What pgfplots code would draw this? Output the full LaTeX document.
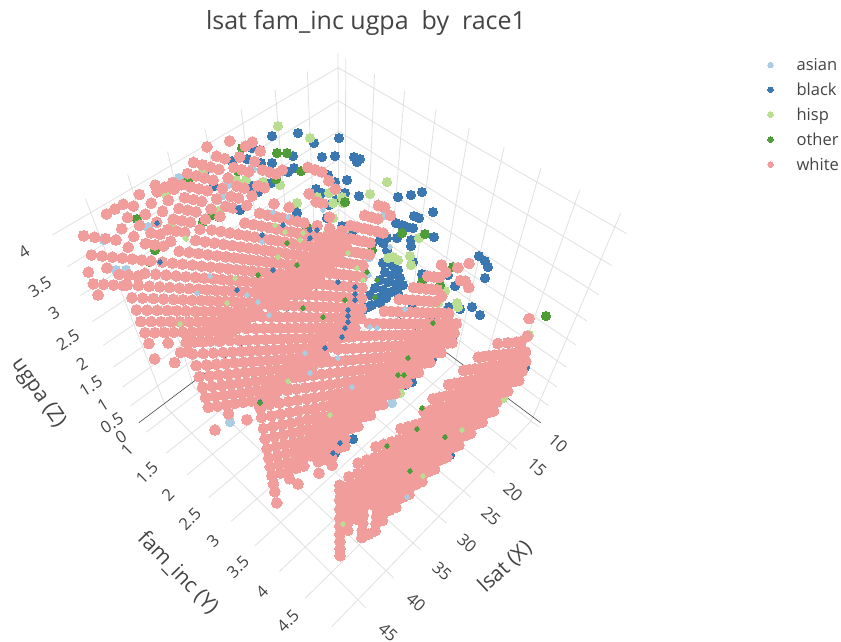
\documentclass[border=0pt]{standalone}
\usepackage{pgfplots}
\pgfplotsset{compat=1.18}
\usepackage{fontspec}
\setmainfont{Open Sans}
\definecolor{cw}{HTML}{F09D9B}
\definecolor{cb}{HTML}{3B78B1}
\definecolor{ch}{HTML}{B9DE91}
\definecolor{co}{HTML}{4F9D38}
\definecolor{ca}{HTML}{ABCDE3}
\definecolor{txt}{HTML}{444444}
\definecolor{gl}{HTML}{E0E0E0}
\pgfplotsset{
 table/fam/.style={/pgfplots/table/header=false,
  /pgfplots/table/x expr={sx((\thisrowno{0}-10)/35,(#1-1)/4,\thisrowno{1}/4)},
  /pgfplots/table/y expr={sy((\thisrowno{0}-10)/35,(#1-1)/4,\thisrowno{1}/4)}},
 table/d3/.style={/pgfplots/table/header=false,
  /pgfplots/table/x expr={sx((\thisrowno{0}-10)/35,(\thisrowno{1}-1)/4,\thisrowno{2}/4)},
  /pgfplots/table/y expr={sy((\thisrowno{0}-10)/35,(\thisrowno{1}-1)/4,\thisrowno{2}/4)}},
 dot/.style={only marks,mark=*,mark size=4.5pt,mark options={draw=#1,fill=#1,line width=0pt},forget plot},
 pdot/.style={only marks,mark=*,mark size=5.4pt,mark options={draw=cw,fill=cw,line width=0pt},forget plot},
 sdot/.style={only marks,mark=*,mark size=2.4pt,mark options={draw=#1,fill=#1,line width=0pt},forget plot},
 gridl/.style={gl,line width=0.8pt,forget plot,unbounded coords=jump,no markers}
}
\begin{document}
\begin{tikzpicture}
\useasboundingbox (0,0) rectangle (841pt,641pt);
\begin{axis}[at={(0,0)},anchor=south west,scale only axis,width=841pt,height=641pt,
 xmin=0,xmax=841,ymin=0,ymax=641,y dir=reverse,hide axis,clip=false,
 declare function={
  sx(\u,\v,\w)=(344.6-195.7*\u+116.4*\v-88.4*\w)/(1-0.124*\u-0.135*\v-0.259*\w);
  sy(\u,\v,\w)=(276.6+81.7*\u+84.1*\v-223.2*\w)/(1-0.124*\u-0.135*\v-0.259*\w);},
 legend style={at={(axis cs:761,56)},anchor=north west,draw=none,fill=none,font=\fontsize{16.5}{18}\selectfont\color{txt},row sep=6.9pt,inner sep=0pt},
 legend cell align=left,
 legend image code/.code={\draw[#1] plot[only marks,mark=*,mark size=2.7pt,mark options={draw=none,line width=0pt}] coordinates {(0.32cm,0cm)};\path (0cm,0cm) (1.16cm,0cm);},
]
\addlegendimage{ca,fill=ca}\addlegendentry{asian}
\addlegendimage{cb,fill=cb}\addlegendentry{black}
\addlegendimage{ch,fill=ch}\addlegendentry{hisp}
\addlegendimage{co,fill=co}\addlegendentry{other}
\addlegendimage{cw,fill=cw}\addlegendentry{white}
% floor lines of constant lsat
\addplot[gridl] table[d3]{
10 0.86 -0.12
10 5.14 -0.12
nan nan nan
15 0.86 -0.12
15 5.14 -0.12
nan nan nan
20 0.86 -0.12
20 5.14 -0.12
nan nan nan
25 0.86 -0.12
25 5.14 -0.12
nan nan nan
30 0.86 -0.12
30 5.14 -0.12
nan nan nan
35 0.86 -0.12
35 5.14 -0.12
nan nan nan
40 0.86 -0.12
40 5.14 -0.12
nan nan nan
45 0.86 -0.12
45 5.14 -0.12
};
% floor lines of constant fam_inc
\addplot[gridl] table[d3]{
10 1 -0.12
49.4 1 -0.12
nan nan nan
10 1.5 -0.12
49.4 1.5 -0.12
nan nan nan
10 2 -0.12
49.4 2 -0.12
nan nan nan
10 2.5 -0.12
49.4 2.5 -0.12
nan nan nan
10 3 -0.12
49.4 3 -0.12
nan nan nan
10 3.5 -0.12
49.4 3.5 -0.12
nan nan nan
10 4 -0.12
49.4 4 -0.12
nan nan nan
10 4.5 -0.12
49.4 4.5 -0.12
nan nan nan
10 5 -0.12
49.4 5 -0.12
};
% wall fam=min: ugpa lines, lsat verticals
\addplot[gridl] table[d3]{
10 0.86 0.5
49.4 0.86 0.5
nan nan nan
10 0.86 1
49.4 0.86 1
nan nan nan
10 0.86 1.5
49.4 0.86 1.5
nan nan nan
10 0.86 2
49.4 0.86 2
nan nan nan
10 0.86 2.5
49.4 0.86 2.5
nan nan nan
10 0.86 3
49.4 0.86 3
nan nan nan
10 0.86 3.5
49.4 0.86 3.5
nan nan nan
10 0.86 4
49.4 0.86 4
nan nan nan
10 0.86 -0.12
10 0.86 4.2
nan nan nan
15 0.86 -0.12
15 0.86 4.2
nan nan nan
20 0.86 -0.12
20 0.86 4.2
nan nan nan
25 0.86 -0.12
25 0.86 4.2
nan nan nan
30 0.86 -0.12
30 0.86 4.2
nan nan nan
35 0.86 -0.12
35 0.86 4.2
nan nan nan
40 0.86 -0.12
40 0.86 4.2
nan nan nan
45 0.86 -0.12
45 0.86 4.2
};
% wall lsat=min: ugpa lines, fam verticals
\addplot[gridl] table[d3]{
10 0.86 0.5
10 5.14 0.5
nan nan nan
10 0.86 1
10 5.14 1
nan nan nan
10 0.86 1.5
10 5.14 1.5
nan nan nan
10 0.86 2
10 5.14 2
nan nan nan
10 0.86 2.5
10 5.14 2.5
nan nan nan
10 0.86 3
10 5.14 3
nan nan nan
10 0.86 3.5
10 5.14 3.5
nan nan nan
10 0.86 4
10 5.14 4
nan nan nan
10 1 -0.12
10 1 4.2
nan nan nan
10 1.5 -0.12
10 1.5 4.2
nan nan nan
10 2 -0.12
10 2 4.2
nan nan nan
10 2.5 -0.12
10 2.5 4.2
nan nan nan
10 3 -0.12
10 3 4.2
nan nan nan
10 3.5 -0.12
10 3.5 4.2
nan nan nan
10 4 -0.12
10 4 4.2
nan nan nan
10 4.5 -0.12
10 4.5 4.2
nan nan nan
10 5 -0.12
10 5 4.2
};
% zero lines
\addplot[gridl,color=txt,line width=0.6pt] table[d3]{
10 0.86 0
49.4 0.86 0
nan nan nan
10 0.86 0
10 5.14 0
};
% points seen beyond or around the white cloud, at the picture position read
\addplot[dot=ca] table[header=false]{
179 178
252 169
228 184
223 195
216 199
148 227
104 240
116 270
126 270
238 185
217 200
386 214
385 215
510 370
493 373
477 403
392 403
230 422
339 423
353 387
436 277
369 257
};
\addplot[dot=cb] table[header=false]{
298 133
272 136
339 138
314 143
322 157
335 156
252 148
260 150
232 161
247 159
261 163
272 163
293 156
207 169
288 172
294 168
328 175
335 182
347 180
214 186
222 188
250 185
251 190
271 183
258 192
316 189
322 193
329 205
336 200
345 193
342 226
327 218
297 213
308 237
156 222
240 210
225 207
354 157
360 159
357 162
359 196
398 197
411 195
422 192
414 216
419 218
433 212
396 223
402 225
407 227
413 228
434 237
352 232
411 240
411 246
397 238
387 238
372 244
383 243
413 262
479 256
485 261
488 267
485 278
448 275
422 274
455 286
472 307
480 315
460 309
449 307
457 324
453 336
448 343
525 367
507 365
432 359
410 377
385 262
392 265
398 270
385 272
392 275
400 278
380 280
388 282
396 284
403 285
375 288
383 290
391 292
398 293
370 295
378 298
386 298
372 305
380 303
363 310
368 307
380 240
387 250
383 263
328 453
335 453
341 443
353 439
450 455
442 456
475 415
492 390
405 385
420 363
430 360
433 340
412 303
432 322
393 377
412 382
};
\addplot[dot=ch] table[header=false]{
278 126
310 138
239 156
203 171
213 180
246 180
236 180
263 182
264 187
280 185
166 194
196 212
218 211
297 203
329 193
317 197
344 231
333 218
328 232
172 227
387 182
370 194
342 197
343 203
333 203
379 219
419 238
410 256
411 265
393 257
398 260
388 258
422 288
445 291
457 303
458 307
433 302
438 303
447 329
432 352
518 353
529 335
503 398
493 412
400 393
392 393
331 415
};
\addplot[dot=co] table[header=false]{
242 148
188 180
277 153
287 153
238 171
262 169
301 171
276 179
137 219
155 250
150 262
190 222
212 215
203 222
219 217
307 228
425 234
402 233
453 267
422 282
345 202
372 250
440 285
546 316
505 355
511 354
492 394
492 402
};
% white, fam_inc = 1
\addplot[pdot] table[fam=1]{
48 3.0
48 3.2
48 3.4
47 3.1
47 3.6
47 3.9
46 3.0
46 3.3
46 3.5
46 3.8
45 2.9
45 3.1
45 3.4
45 3.7
44 3.0
44 3.3
44 3.6
44 4.0
43 2.9
43 3.2
43 3.4
43 3.7
43 4.0
42 3.1
42 3.5
42 3.8
42 4.0
41 3.0
41 3.3
41 3.6
41 3.9
40 3.2
40 3.4
40 3.7
40 4.0
39 3.1
39 3.3
39 3.5
39 3.8
38 3.1
38 3.3
38 3.6
38 3.9
38 4.0
37 3.2
37 3.4
37 3.7
37 3.9
36 3.1
36 3.3
36 3.5
36 3.8
36 3.9
35 3.2
35 3.4
35 3.6
35 3.8
34 3.0
34 3.3
34 3.5
34 3.7
34 3.9
33 3.1
33 3.4
33 3.6
33 3.8
33 4.0
32 3.2
32 3.5
32 3.7
32 3.9
31 3.0
31 3.3
31 3.6
31 3.8
31 4.1
30 3.1
30 3.4
30 3.7
30 3.9
29 3.0
29 3.2
29 3.5
29 3.8
28 3.1
28 3.3
28 3.6
28 4.0
27 2.9
27 3.2
27 3.5
27 3.7
26 3.0
26 3.4
26 3.8
25 3.1
25 3.5
25 3.8
24 3.0
24 3.3
24 3.6
23 3.2
22 3.1
21 3.1
};
% white, fam_inc = 2
\addplot[pdot] table[fam=2]{
48 2.7
48 3.0
48 3.2
48 3.4
48 3.6
48 3.8
48 4.0
47 3.1
47 3.3
47 3.5
47 3.7
47 3.9
46 2.4
46 2.8
46 3.0
46 3.2
46 3.4
46 3.6
46 3.8
46 4.0
45 2.5
45 2.9
45 3.1
45 3.3
45 3.5
45 3.7
45 3.9
44 2.4
44 2.6
44 2.8
44 3.0
44 3.2
44 3.4
44 3.6
44 3.8
44 4.0
43 2.5
43 2.7
43 2.9
43 3.1
43 3.3
43 3.5
43 3.7
43 3.9
42 2.4
42 2.6
42 2.8
42 3.0
42 3.2
42 3.4
42 3.6
42 3.8
42 4.0
41 2.5
41 2.7
41 2.9
41 3.1
41 3.3
41 3.5
41 3.7
41 3.9
40 2.2
40 2.4
40 2.6
40 2.8
40 3.0
40 3.2
40 3.4
40 3.6
40 3.8
40 4.0
39 2.3
39 2.5
39 2.7
39 2.9
39 3.1
39 3.3
39 3.5
39 3.7
39 3.9
38 2.2
38 2.4
38 2.6
38 2.8
38 3.0
38 3.2
38 3.4
38 3.6
38 3.8
38 4.0
37 2.3
37 2.5
37 2.7
37 2.9
37 3.1
37 3.3
37 3.5
37 3.7
37 3.9
36 2.2
36 2.4
36 2.6
36 2.8
36 3.0
36 3.2
36 3.4
36 3.6
36 3.8
35 2.3
35 2.5
35 2.7
35 2.9
35 3.1
35 3.3
35 3.5
35 3.7
34 2.2
34 2.4
34 2.6
34 2.8
34 3.0
34 3.2
34 3.4
34 3.6
34 3.8
33 2.3
33 2.5
33 2.7
33 2.9
33 3.1
33 3.3
33 3.5
33 3.7
32 2.0
32 2.2
32 2.4
32 2.6
32 2.8
32 3.0
32 3.2
32 3.4
32 3.6
32 3.8
31 2.1
31 2.3
31 2.5
31 2.7
31 2.9
31 3.1
31 3.3
31 3.5
31 3.7
30 2.0
30 2.2
30 2.4
30 2.6
30 2.8
30 3.0
30 3.2
30 3.4
30 3.6
30 3.8
29 2.1
29 2.3
29 2.5
29 2.7
29 2.9
29 3.1
29 3.3
29 3.5
28 2.0
28 2.2
28 2.4
28 2.6
28 2.8
28 3.0
28 3.2
28 3.4
28 3.6
27 2.1
27 2.3
27 2.5
27 2.7
27 2.9
27 3.1
27 3.3
26 2.0
26 2.2
26 2.4
26 2.6
26 2.8
26 3.0
26 3.2
25 2.1
25 2.3
25 2.5
25 2.7
25 2.9
25 3.6
25 4.0
24 2.0
24 2.2
24 2.4
24 2.6
24 2.8
24 3.0
24 3.4
24 3.9
23 2.1
23 2.3
23 2.5
23 2.7
23 3.3
23 3.8
22 2.0
22 2.2
22 2.4
22 2.6
22 2.8
22 3.0
22 3.6
21 2.1
21 2.3
21 2.5
21 3.4
20 2.0
20 2.2
20 2.4
20 2.6
19 2.2
};
% white, fam_inc = 3
\addplot[pdot] table[fam=3]{
48 2.3
48 2.8
48 3.0
48 3.2
48 3.4
48 3.6
48 3.8
48 4.0
47 2.7
47 2.9
47 3.1
47 3.3
47 3.5
47 3.7
47 3.9
46 2.4
46 2.6
46 2.8
46 3.0
46 3.2
46 3.4
46 3.6
46 3.8
46 4.0
45 2.5
45 2.7
45 2.9
45 3.1
45 3.3
45 3.5
45 3.7
45 3.9
44 2.0
44 2.4
44 2.6
44 2.8
44 3.0
44 3.2
44 3.4
44 3.6
44 3.8
44 4.0
43 2.3
43 2.5
43 2.7
43 2.9
43 3.1
43 3.3
43 3.5
43 3.7
43 3.9
42 2.0
42 2.2
42 2.4
42 2.6
42 2.8
42 3.0
42 3.2
42 3.4
42 3.6
42 3.8
42 4.0
41 2.1
41 2.3
41 2.5
41 2.7
41 2.9
41 3.1
41 3.3
41 3.5
41 3.7
41 3.9
40 2.0
40 2.2
40 2.4
40 2.6
40 2.8
40 3.0
40 3.2
40 3.4
40 3.6
40 3.8
40 4.0
39 2.1
39 2.3
39 2.5
39 2.7
39 2.9
39 3.1
39 3.3
39 3.5
39 3.7
39 3.9
38 2.0
38 2.2
38 2.4
38 2.6
38 2.8
38 3.0
38 3.2
38 3.4
38 3.6
38 3.8
38 4.0
37 2.1
37 2.3
37 2.5
37 2.7
37 2.9
37 3.1
37 3.3
37 3.5
37 3.7
37 3.9
36 2.0
36 2.2
36 2.4
36 2.6
36 2.8
36 3.0
36 3.2
36 3.4
36 3.6
36 3.8
36 4.0
35 2.1
35 2.3
35 2.5
35 2.7
35 2.9
35 3.1
35 3.3
35 3.5
35 3.7
35 3.9
34 2.0
34 2.2
34 2.4
34 2.6
34 2.8
34 3.0
34 3.2
34 3.4
34 3.6
34 3.8
34 4.0
33 2.1
33 2.3
33 2.5
33 2.7
33 2.9
33 3.1
33 3.3
33 3.5
33 3.7
33 3.9
32 2.0
32 2.2
32 2.4
32 2.6
32 2.8
32 3.0
32 3.2
32 3.4
32 3.6
32 3.8
32 4.0
31 2.1
31 2.3
31 2.5
31 2.7
31 2.9
31 3.1
31 3.3
31 3.5
31 3.7
31 3.9
30 2.0
30 2.2
30 2.4
30 2.6
30 2.8
30 3.0
30 3.2
30 3.4
30 3.6
30 3.8
30 4.0
29 2.1
29 2.3
29 2.5
29 2.7
29 2.9
29 3.1
29 3.3
29 3.5
29 3.7
29 3.9
28 2.0
28 2.2
28 2.4
28 2.6
28 2.8
28 3.0
28 3.2
28 3.4
28 3.6
28 3.8
28 4.0
27 2.1
27 2.3
27 2.5
27 2.7
27 2.9
27 3.1
27 3.3
27 3.5
27 3.7
27 3.9
26 2.2
26 2.4
26 2.6
26 2.8
26 3.0
26 3.2
26 3.4
26 3.6
26 3.8
26 4.0
25 3.3
25 3.5
25 3.7
25 3.9
24 3.6
24 3.8
24 4.0
23 3.5
23 3.9
22 3.7
};
% white, fam_inc = 4
\addplot[pdot] table[fam=4]{
48 1.9
48 2.2
48 2.4
48 2.6
48 2.8
48 3.0
48 3.2
48 3.4
48 3.6
48 3.8
48 4.0
47 2.5
47 2.7
47 2.9
47 3.1
47 3.3
47 3.5
47 3.7
47 3.9
46 2.2
46 2.4
46 2.6
46 2.8
46 3.0
46 3.2
46 3.4
46 3.6
46 3.8
46 4.0
45 1.9
45 2.3
45 2.5
45 2.7
45 2.9
45 3.1
45 3.3
45 3.5
45 3.7
45 3.9
44 2.2
44 2.4
44 2.6
44 2.8
44 3.0
44 3.2
44 3.4
44 3.6
44 3.8
44 4.0
43 2.3
43 2.5
43 2.7
43 2.9
43 3.1
43 3.3
43 3.5
43 3.7
43 3.9
42 1.7
42 2.0
42 2.2
42 2.4
42 2.6
42 2.8
42 3.0
42 3.2
42 3.4
42 3.6
42 3.8
41 1.9
41 2.1
41 2.3
41 2.5
41 2.7
41 2.9
41 3.1
41 3.3
41 3.5
41 3.7
41 3.9
40 1.6
40 1.8
40 2.0
40 2.2
40 2.4
40 2.6
40 2.8
40 3.0
40 3.2
40 3.4
40 3.6
40 3.8
39 1.9
39 2.1
39 2.3
39 2.5
39 2.7
39 2.9
39 3.1
39 3.3
39 3.5
39 3.7
39 3.9
38 1.8
38 2.0
38 2.2
38 2.4
38 2.6
38 2.8
38 3.0
38 3.2
38 3.4
38 3.6
38 3.8
37 2.1
37 2.3
37 2.5
37 2.7
37 2.9
37 3.1
37 3.3
37 3.5
37 3.7
37 3.9
36 2.0
36 2.2
36 2.4
36 2.6
36 2.8
36 3.0
36 3.2
36 3.4
36 3.6
36 3.8
35 2.1
35 2.3
35 2.5
35 2.7
35 2.9
35 3.1
35 3.3
35 3.5
35 3.7
35 3.9
34 2.0
34 2.2
34 2.4
34 2.6
34 2.8
34 3.0
34 3.2
34 3.4
34 3.6
34 3.8
33 2.1
33 2.3
33 2.5
33 2.7
33 2.9
33 3.1
33 3.3
33 3.5
33 3.7
33 3.9
32 2.0
32 2.2
32 2.4
32 2.6
32 2.8
32 3.0
32 3.2
32 3.4
32 3.6
32 3.8
31 2.1
31 2.3
31 2.5
31 2.7
31 2.9
31 3.1
31 3.3
31 3.5
31 3.7
31 3.9
30 2.0
30 2.2
30 2.4
30 2.6
30 2.8
30 3.0
30 3.2
30 3.4
30 3.6
30 3.8
29 2.1
29 2.3
29 2.5
29 2.7
29 2.9
29 3.1
29 3.3
29 3.5
29 3.7
29 3.9
28 2.0
28 2.2
28 2.4
28 2.6
28 2.8
28 3.0
28 3.2
28 3.4
28 3.6
28 3.8
27 2.1
27 2.3
27 2.5
27 2.7
27 2.9
27 3.1
27 3.3
27 3.5
27 3.7
27 3.9
26 2.0
26 2.2
26 2.4
26 2.6
26 2.8
26 3.0
26 3.2
26 3.4
26 3.6
26 3.8
25 2.1
25 2.3
25 2.5
25 2.7
25 2.9
25 3.1
25 3.3
25 3.5
25 3.7
25 3.9
24 2.0
24 2.2
24 2.4
24 2.6
24 2.8
24 3.0
24 3.3
24 3.7
23 2.1
23 2.3
23 2.5
23 2.7
23 2.9
22 2.0
22 2.2
22 2.4
22 2.6
22 2.8
22 3.6
21 2.1
21 2.3
21 2.5
21 3.3
20 2.0
20 2.2
20 2.4
20 3.2
20 3.5
19 3.0
};
% white, fam_inc = 5
\addplot[pdot] table[fam=5]{
48 2.2
48 2.4
48 2.6
48 2.8
48 3.0
48 3.2
48 3.4
48 3.6
48 3.8
48 3.9
47 2.7
47 2.9
47 3.1
47 3.3
47 3.5
47 3.7
47 3.9
46 2.8
46 3.0
46 3.2
46 3.4
46 3.6
46 3.8
46 4.0
45 2.1
45 2.3
45 2.5
45 2.7
45 2.9
45 3.1
45 3.3
45 3.5
45 3.7
45 3.9
44 2.0
44 2.8
44 3.0
44 3.2
44 3.4
44 3.6
44 3.8
44 4.0
43 1.9
43 2.1
43 2.3
43 2.5
43 2.7
43 2.9
43 3.1
43 3.3
43 3.5
43 3.7
43 3.9
42 2.0
42 2.2
42 2.4
42 2.6
42 2.8
42 3.0
42 3.2
42 3.4
42 3.6
42 3.8
41 2.1
41 2.3
41 2.5
41 2.7
41 2.9
41 3.1
41 3.3
41 3.5
41 3.7
41 3.9
40 2.0
40 2.2
40 2.4
40 2.6
40 2.8
40 3.0
40 3.2
40 3.4
40 3.6
40 3.8
39 2.1
39 2.3
39 2.5
39 2.7
39 2.9
39 3.1
39 3.3
39 3.5
39 3.7
38 2.0
38 2.2
38 2.4
38 2.6
38 2.8
38 3.0
38 3.2
38 3.4
38 3.6
38 3.8
37 2.1
37 2.3
37 2.5
37 2.7
37 2.9
37 3.1
37 3.3
37 3.5
37 3.7
37 3.9
36 2.0
36 2.2
36 2.4
36 2.6
36 2.8
36 3.0
36 3.2
36 3.4
36 3.6
36 3.8
35 2.1
35 2.3
35 2.5
35 2.7
35 2.9
35 3.1
35 3.3
35 3.5
35 3.7
35 3.9
34 2.0
34 2.2
34 2.4
34 2.6
34 2.8
34 3.0
34 3.2
34 3.4
34 3.6
34 3.8
33 2.1
33 2.3
33 2.5
33 2.7
33 2.9
33 3.1
33 3.3
33 3.5
33 3.7
33 3.9
32 2.0
32 2.2
32 2.4
32 2.6
32 2.8
32 3.0
32 3.2
32 3.4
32 3.6
32 3.8
31 2.1
31 2.3
31 2.5
31 2.7
31 2.9
31 3.1
31 3.3
31 3.5
31 3.7
31 3.9
30 2.0
30 2.2
30 2.4
30 2.6
30 2.8
30 3.0
30 3.2
30 3.4
30 3.6
30 3.8
29 2.1
29 2.3
29 2.5
29 2.7
29 2.9
29 3.1
29 3.3
29 3.5
29 3.7
28 2.0
28 2.2
28 2.4
28 2.6
28 2.8
28 3.0
28 3.2
28 3.4
28 3.6
28 3.8
27 2.1
27 2.3
27 2.5
27 2.7
27 2.9
27 3.1
27 3.3
27 3.5
26 2.0
26 2.2
26 2.4
26 2.6
26 2.8
26 3.0
26 3.2
26 3.4
26 3.6
25 2.1
25 2.3
25 2.5
25 2.7
25 2.9
25 3.1
25 3.3
24 2.0
24 2.2
24 2.4
24 2.6
24 2.8
24 3.0
24 3.2
24 3.4
23 2.3
23 2.5
23 2.7
23 2.9
23 3.1
23 3.3
23 3.7
22 2.2
22 2.4
22 2.6
22 2.8
22 3.0
22 3.3
21 2.3
21 2.5
21 2.7
21 2.9
20 2.2
20 2.4
20 2.6
};
% points showing through the white cloud
\addplot[sdot=ca] table[header=false]{
273 212
288 217
262 242
210 276
197 293
247 295
258 302
269 315
305 353
338 358
352 387
370 327
377 328
405 309
369 275
323 210
310 373
390 247
407 497
};
\addplot[sdot=cb] table[header=false]{
355 287
355 294
355 300
348 310
348 316
348 322
345 328
342 337
325 348
338 282
310 230
310 238
317 230
273 270
262 235
237 290
238 208
283 225
297 210
160 262
157 223
260 402
340 443
333 453
};
\addplot[sdot=ch] table[header=false]{
363 280
343 524
423 476
462 430
330 415
180 324
227 303
288 381
185 238
275 225
278 257
235 278
300 240
348 253
357 268
303 233
285 232
186 239
};
\addplot[sdot=co] table[header=false]{
258 275
287 243
297 265
303 308
323 317
345 300
375 297
377 280
367 272
408 358
398 375
404 375
422 408
387 446
417 429
410 471
445 437
433 323
260 403
};
% title
\node[txt,font=\fontsize{25}{28}\selectfont] at (366,23) {lsat fam\_inc ugpa\ \ by\ \ race1};
% tick labels
\begin{scope}[every node/.style={txt,font=\fontsize{16.5}{18}\selectfont}]
\node[rotate=-42] at (558,443) {10};
\node[rotate=-42] at (537,467) {15};
\node[rotate=-42] at (513,492) {20};
\node[rotate=-42] at (491,516) {25};
\node[rotate=-42] at (467,543) {30};
\node[rotate=-42] at (442,571) {35};
\node[rotate=-42] at (416,602) {40};
\node[rotate=-42] at (388,632) {45};
\node[rotate=45] at (127,450) {1};
\node[rotate=45] at (147,473) {1.5};
\node[rotate=45] at (168,495) {2};
\node[rotate=45] at (190,519) {2.5};
\node[rotate=45] at (213,541) {3};
\node[rotate=45] at (238,567) {3.5};
\node[rotate=45] at (262,592) {4};
\node[rotate=45] at (288,621) {4.5};
\node[rotate=32] at (24,252) {4};
\node[rotate=32] at (40,287) {3.5};
\node[rotate=32] at (54,313) {3};
\node[rotate=32] at (68,340) {2.5};
\node[rotate=32] at (82,364) {2};
\node[rotate=32] at (91,386) {1.5};
\node[rotate=32] at (103,405) {1};
\node[rotate=32] at (112,423) {0.5};
\node[rotate=32] at (121,437) {0};
\end{scope}
\begin{scope}[every node/.style={txt,font=\fontsize{21}{24}\selectfont}]
\node[rotate=43] at (505,567) {lsat (X)};
\node[rotate=-46] at (178,573) {fam\_inc (Y)};
\node[rotate=-55] at (38,393) {ugpa (Z)};
\end{scope}
\end{axis}
\end{tikzpicture}
\end{document}
